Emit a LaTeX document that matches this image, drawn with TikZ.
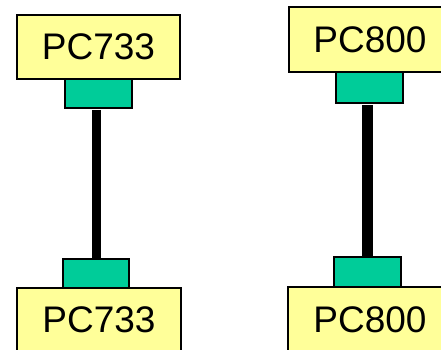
\documentclass[tikz,border=0pt]{standalone}
\usepackage{fontspec}
\setmainfont{Liberation Sans}
\definecolor{pcyellow}{HTML}{FFFF99}
\definecolor{portgreen}{HTML}{00CC99}
\begin{document}
\begin{tikzpicture}[x=1pt,y=-1pt,
  pcbox/.style={draw=black,line width=1.3pt,fill=pcyellow,rectangle,inner sep=0pt,
    minimum width=163pt,minimum height=64pt,font=\fontsize{37}{40}\selectfont},
  port/.style={draw=black,line width=1.3pt,fill=portgreen,rectangle,inner sep=0pt,
    minimum width=67pt,minimum height=29pt},
  cable/.style={line width=10pt,black,shorten <=1.5pt,shorten >=0.5pt}]
\useasboundingbox (0,0) rectangle (441,350);
\clip (0,0) rectangle (441,350);
% left pair
\node[pcbox] (ltbox) at (98.5,47) {PC733};
\node[port] (ltport) at (98.5,93.5) {};
\node[port,minimum width=66pt] (lbport) at (96,273.5) {};
\node[pcbox,minimum width=164pt] (lbbox) at (99,320) {PC733};
\draw[cable,line width=9pt] (lbport.north |- ltport.south) -- (lbport.north);
% right pair
\node[pcbox,minimum width=162pt,minimum height=65pt] (rtbox) at (370,39.5) {PC800};
\node[port,minimum height=31pt] (rtport) at (369.5,87.5) {};
\node[port,minimum height=30pt] (rbport) at (367.5,272) {};
\node[pcbox,minimum width=164pt,minimum height=65pt] (rbbox) at (370,319.5) {PC800};
\draw[cable,line width=11pt] (rbport.north |- rtport.south) -- (rbport.north);
\end{tikzpicture}
\end{document}
